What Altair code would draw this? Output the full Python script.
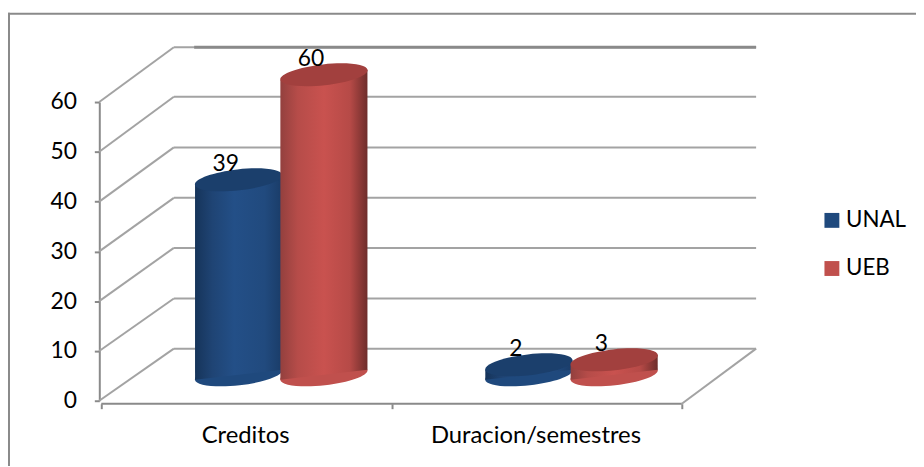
import altair as alt
import pandas as pd

categories = ["Creditos", "Duracion/semestres"]
series_names = ["UNAL", "UEB"]
unal_values = [39, 2]
ueb_values = [60, 3]
y_ticks = [0, 10, 20, 30, 40, 50, 60]
back_wall = [10.46, 20.53, 30.7, 40.76, 50.89, 61.05, 71.01]
wall_left = 0.25
wall_right = 2.256
front_left = -0.007
front_right = 2.0
FONT = "Lato"
GRID = "#a3a3a3"
LINE = "#8a8a8a"

rows = []
for ci, cat in enumerate(categories):
    for si, (name, vals) in enumerate(zip(series_names, [unal_values, ueb_values])):
        for side in (-1, 1):
            rows.append(dict(category=cat, ci=ci, series=name, si=si, value=vals[ci], side=side))
df = pd.DataFrame(rows)

seg = pd.DataFrame(
    [dict(a=wall_left, b=wall_right, c=v, d=v) for v in back_wall]
    + [dict(a=front_left, b=wall_left, c=t, d=v) for t, v in zip(y_ticks, back_wall)]
    + [dict(a=front_right, b=wall_right, c=-0.6, d=back_wall[0])]
)
floor = pd.DataFrame([dict(a=0.0, b=front_right, c=-0.6, d=-0.6)])
top_line = pd.DataFrame([dict(a=0.32, b=wall_right, c=back_wall[-1], d=back_wall[-1])])

xs = alt.Scale(domain=[0, 2], nice=False, zero=False)
ys = alt.Scale(domain=[0, 60], nice=False, zero=False)

x_axis = alt.Axis(
    values=[0, 1, 2], grid=False, offset=3, domain=False, tickColor=LINE, tickWidth=2, tickSize=5,
    labelExpr="datum.value==0?'Creditos':datum.value==1?'Duracion/semestres':''",
    labelOffset=145, labelFont=FONT, labelFontSize=24, labelColor="black", labelPadding=15,
    labelAngle=0, labelOverlap=False, labelFlush=False, labelBaseline="top", labelLimit=400,
)
y_axis = alt.Axis(
    values=y_ticks, grid=False, offset=2, domainColor=LINE, domainWidth=2, tickColor=LINE,
    tickWidth=2, tickSize=5, labelFont=FONT, labelFontSize=23, labelColor="black", labelPadding=18,
)


def X(f):
    return alt.X(f, scale=xs, axis=x_axis, title=None)


def Y(f):
    return alt.Y(f, scale=ys, axis=y_axis, title=None)


def rule(data, color, width):
    return alt.Chart(data).mark_rule(color=color, strokeWidth=width).encode(
        x=X("a:Q"), x2="b:Q", y=Y("c:Q"), y2="d:Q",
    )


ELLIPSE = "M-1,.11A1.006,.24,-6.3,1,1,1,-.11A1.006,.24,-6.3,1,1,-1,.11Z"
CYL = 7744


def geom(chart):
    return chart.transform_calculate(
        cx="datum.ci+0.62+(datum.si==0?-0.147:0.147)",
        top="5.2+1.0045*datum.value",
        base="5.2",
        px="datum.cx+datum.side*0.15",
        ty="datum.top+datum.side",
        by="datum.base+datum.side",
    )


def body(name, stops):
    grad = alt.LinearGradient(
        gradient="linear", x1=0, x2=1, y1=0, y2=0,
        stops=[alt.GradientStop(offset=o, color=c) for o, c in stops],
    )
    return geom(alt.Chart(df[df.series == name])).mark_area(fill=grad, interpolate="linear").encode(
        x=X("px:Q"), y=Y("ty:Q"), y2="by:Q", detail="category:N",
    )


def top(name, color):
    return geom(alt.Chart(df[(df.series == name) & (df.side == 1)])).mark_point(
        shape=ELLIPSE, size=CYL, filled=True, fill=color, opacity=1, strokeWidth=0
    ).encode(x=X("cx:Q"), y=Y("top:Q"))


base = geom(alt.Chart(df[df.side == 1])).mark_point(
    shape=ELLIPSE, size=CYL, filled=True, opacity=1, strokeWidth=0
).encode(
    x=X("cx:Q"),
    y=Y("base:Q"),
    color=alt.Color(
        "series:N",
        scale=alt.Scale(domain=series_names, range=["#1f497d", "#c0504d"]),
        legend=alt.Legend(
            title=None, orient="none", legendX=725, legendY=108, symbolType="square", symbolSize=225,
            symbolStrokeWidth=0, labelFont=FONT, labelFontSize=22.5, labelColor="black", rowPadding=25.5,
            labelOffset=3, padding=0, symbolOpacity=1,
        ),
    ),
)

labels = geom(alt.Chart(df[df.side == 1])).mark_text(
    font=FONT, fontSize=23, color="black", dx=-13, dy=-16, baseline="middle", align="center"
).encode(x=X("cx:Q"), y=Y("top:Q"), text="value:Q")

border = alt.Chart(pd.DataFrame({"k": [0]})).mark_rule(color=LINE, strokeWidth=2)
border_top = border.encode(x=alt.value(-94), x2=alt.value(830), y=alt.value(-89))
border_left = border.encode(x=alt.value(-93), y=alt.value(-90), y2=alt.value(370))

blue_stops = [(0, "#16345a"), (0.2, "#1f4474"), (0.45, "#234f87"), (0.8, "#214a7e"), (1, "#1a3c68")]
red_stops = [(0, "#93403e"), (0.2, "#b64c49"), (0.5, "#c9524f"), (0.8, "#b64a47"), (1, "#6e2d2b")]

chart = alt.layer(
    rule(floor, LINE, 2),
    rule(seg, GRID, 2),
    rule(top_line, LINE, 3),
    border_top,
    border_left,
    base,
    body("UNAL", blue_stops),
    top("UNAL", "#1b3f6c"),
    body("UEB", red_stops),
    top("UEB", "#a2403e"),
    labels,
).properties(
    width=585,
    height=301,
    padding={"left": 94, "top": 93, "right": 236, "bottom": 64},
    autosize=alt.AutoSizeParams(type="none"),
    background="white",
).configure_view(stroke=None)

chart.save("out.html", embed_options={"renderer": "svg", "actions": False})
